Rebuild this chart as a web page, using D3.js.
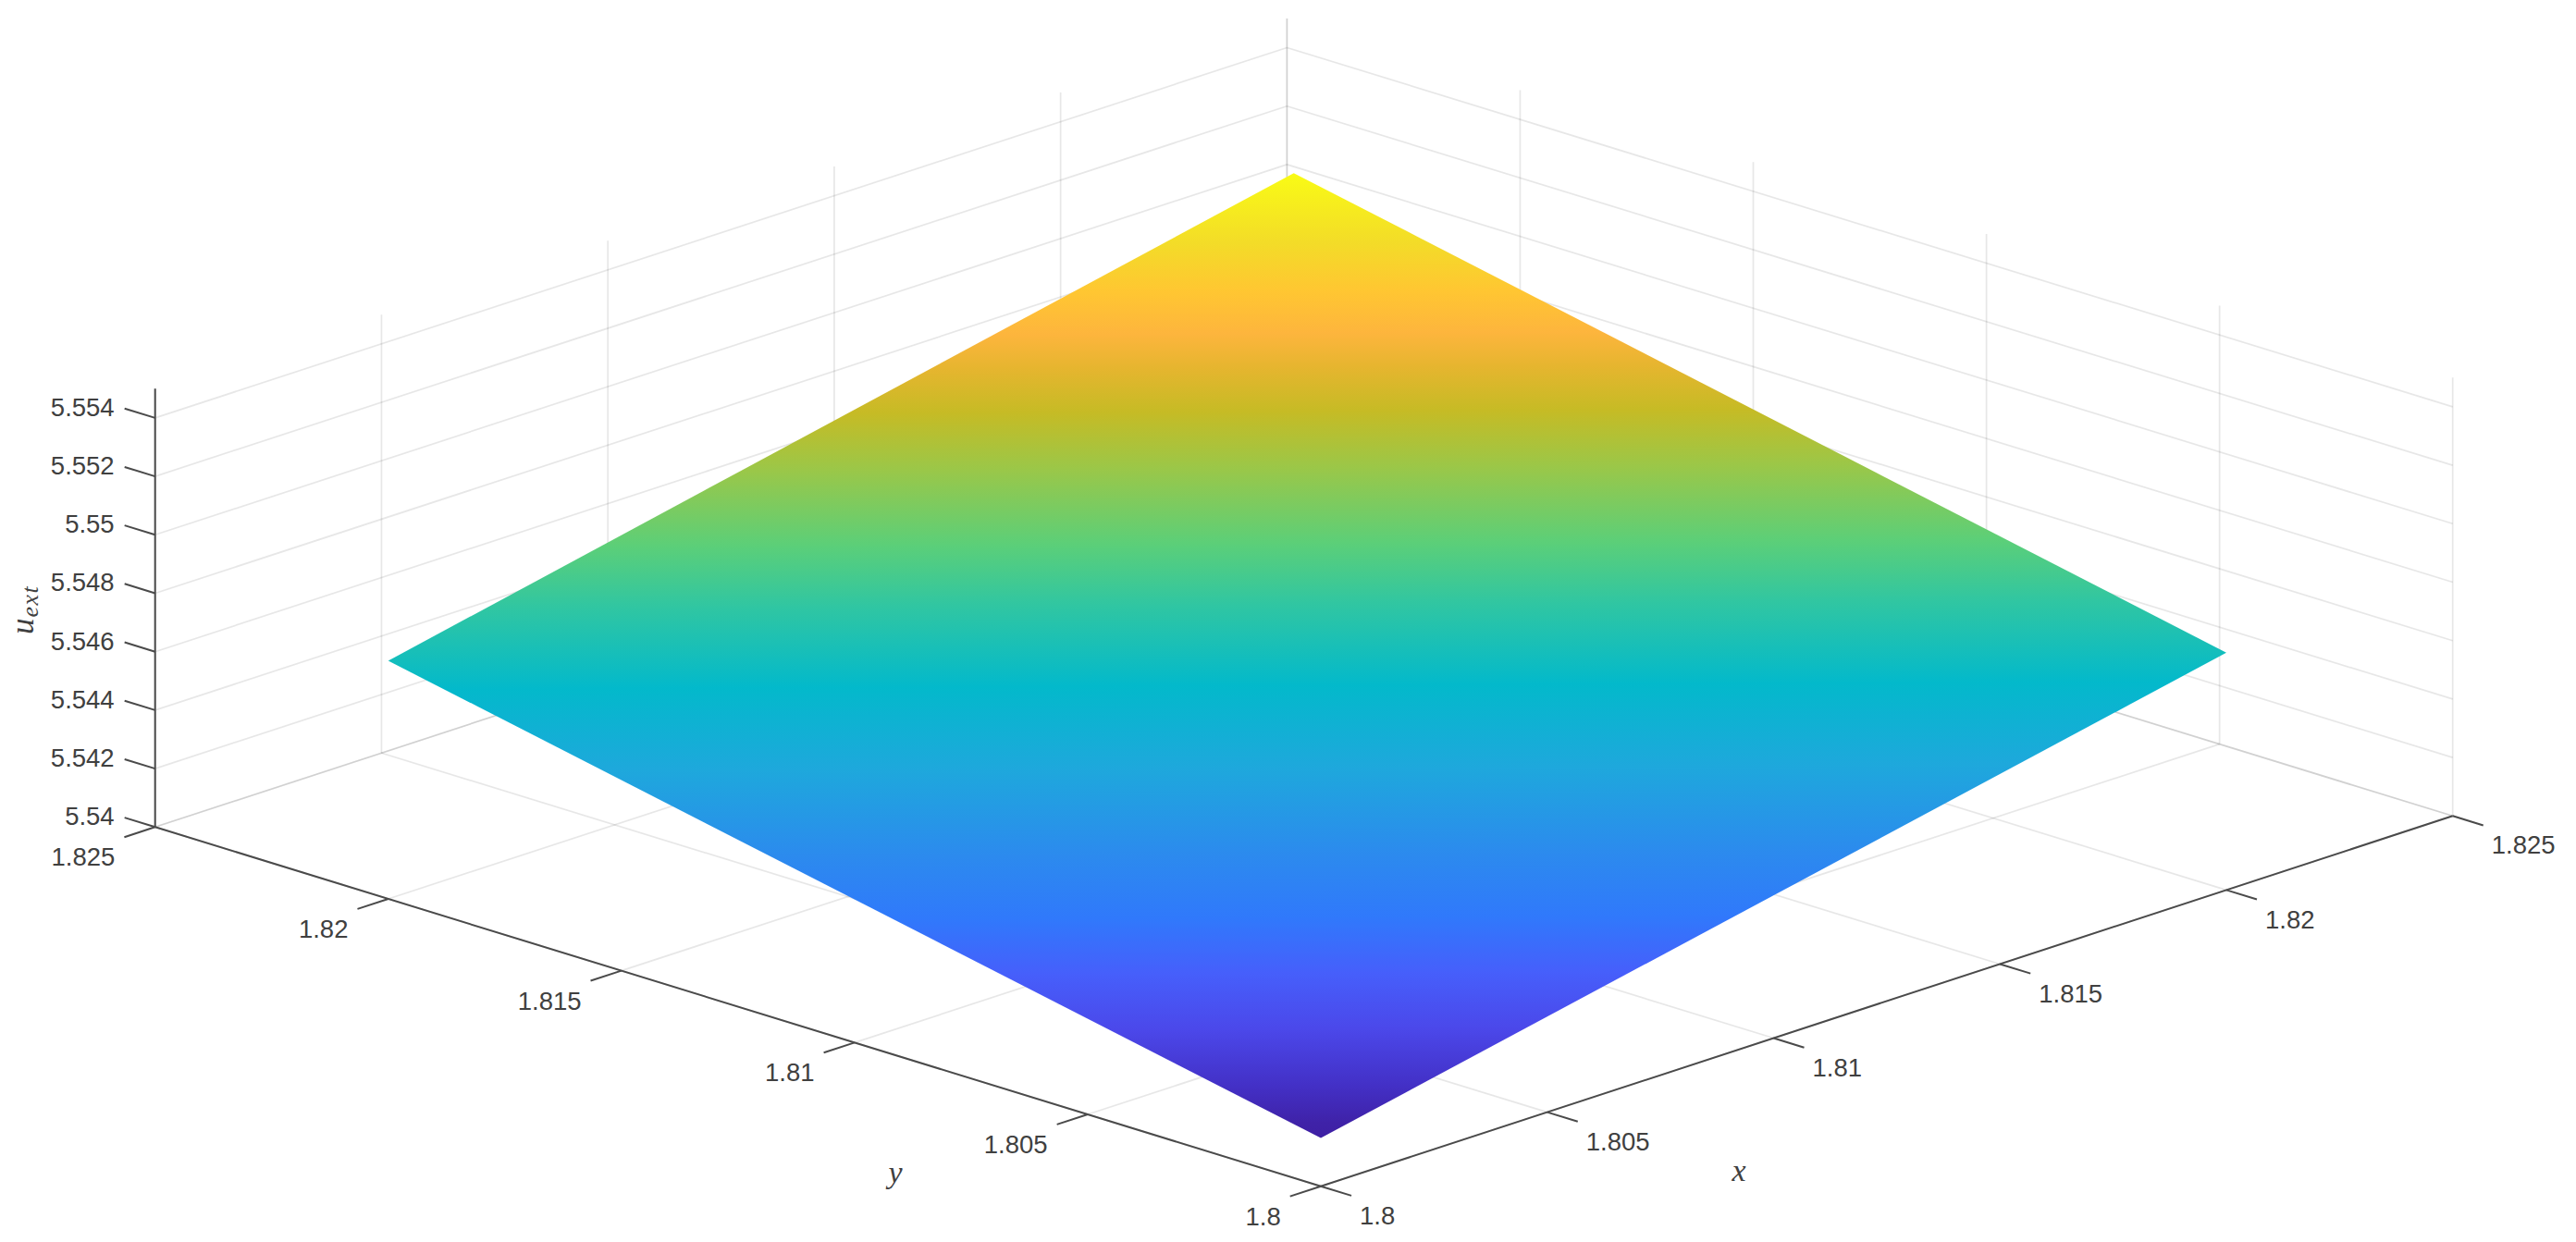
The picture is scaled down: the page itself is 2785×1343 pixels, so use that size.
<!DOCTYPE html>
<html>
<head>
<meta charset="utf-8">
<script src="https://cdn.jsdelivr.net/npm/d3@7"></script>
<style>
  body { margin: 0; background: #fff; }
  text { font-family: "Liberation Sans", Arial, sans-serif; font-size: 27.5px; fill: #404040; }
  .math { font-family: "Liberation Serif", serif; font-style: italic; }
</style>
</head>
<body>
<div id="chart"></div>
<script>
// tick values of the three axes
const xTicks = [1.8, 1.805, 1.81, 1.815, 1.82, 1.825];
const yTicks = [1.8, 1.805, 1.81, 1.815, 1.82, 1.825];
const zTicks = [5.54, 5.542, 5.544, 5.546, 5.548, 5.55, 5.552, 5.554];

// axis limits
const xLim = [1.8, 1.825];
const yLim = [1.8, 1.825];
const zLim = [5.54, 5.555];

// surface corners
const surfX = [1.8, 1.82, 1.82, 1.8];
const surfY = [1.8, 1.8, 1.82, 1.82];
const surfZ = [5.54165, 5.54812, 5.5547, 5.54815];

// colours up the surface (0 = lowest corner, 1 = highest corner)
const colorPos = [0, 0.016, 0.054, 0.113, 0.171, 0.229, 0.293, 0.384, 0.469, 0.553, 0.617, 0.695, 0.753, 0.799, 0.834, 0.877, 0.928, 1];
const colorHex = ["#3e1fa4", "#3f22a8", "#4330c6", "#4b48ea", "#465ffb", "#3079fb", "#2c8aee", "#1ea8dc", "#03b9cb", "#30c6a2", "#5ccf78", "#9bc748", "#c6bb25", "#e6b52f", "#fdb53d", "#ffc632", "#f3dc28", "#f9fb15"];

const width = 2785, height = 1343;

// the view is orthographic, so the box is just an origin and three edge vectors
const origin = [1428, 1282.7];
const xEdge = [1223.7, -400.4];
const yEdge = [-1260.3, -388.4];
const zEdge = [0, -474];

const xs = d3.scaleLinear().domain(xLim).range([0, 1]);
const ys = d3.scaleLinear().domain(yLim).range([0, 1]);
const zs = d3.scaleLinear().domain(zLim).range([0, 1]);

function project(x, y, z) {
  const u = xs(x), v = ys(y), w = zs(z);
  return [
    origin[0] + u * xEdge[0] + v * yEdge[0] + w * zEdge[0],
    origin[1] + u * xEdge[1] + v * yEdge[1] + w * zEdge[1]
  ];
}

const svg = d3.select("#chart")
  .append("svg")
  .attr("width", width)
  .attr("height", height);

function line3d(g, a, b) {
  const p = project(...a), q = project(...b);
  return g.append("line")
    .attr("x1", p[0]).attr("y1", p[1])
    .attr("x2", q[0]).attr("y2", q[1]);
}

// grid, semi transparent so the lines get darker where they double up
const grid = svg.append("g")
  .attr("stroke", "#262626")
  .attr("stroke-opacity", 0.11)
  .attr("stroke-width", 1.7)
  .attr("fill", "none");

xTicks.forEach(x => {
  line3d(grid, [x, yLim[0], zLim[0]], [x, yLim[1], zLim[0]]);
  line3d(grid, [x, yLim[1], zLim[0]], [x, yLim[1], zLim[1]]);
});
yTicks.forEach(y => {
  line3d(grid, [xLim[0], y, zLim[0]], [xLim[1], y, zLim[0]]);
  line3d(grid, [xLim[1], y, zLim[0]], [xLim[1], y, zLim[1]]);
});
zTicks.forEach(z => {
  line3d(grid, [xLim[0], yLim[1], z], [xLim[1], yLim[1], z]);
  line3d(grid, [xLim[1], yLim[1], z], [xLim[1], yLim[0], z]);
});

// surface with a gradient that follows the height of the plane
const corners = surfX.map((x, i) => project(x, surfY[i], surfZ[i]));
const across = [corners[1][0] - corners[3][0], corners[1][1] - corners[3][1]];
const len = Math.hypot(across[0], across[1]);
const normal = [-across[1] / len, across[0] / len];
const reach = (corners[2][0] - corners[0][0]) * normal[0] + (corners[2][1] - corners[0][1]) * normal[1];

const grad = svg.append("defs").append("linearGradient")
  .attr("id", "surfaceFill")
  .attr("gradientUnits", "userSpaceOnUse")
  .attr("x1", corners[0][0])
  .attr("y1", corners[0][1])
  .attr("x2", corners[0][0] + normal[0] * reach)
  .attr("y2", corners[0][1] + normal[1] * reach);

grad.selectAll("stop")
  .data(colorPos)
  .join("stop")
  .attr("offset", d => d)
  .attr("stop-color", (d, i) => colorHex[i]);

svg.append("path")
  .attr("d", d3.line()(corners) + "Z")
  .attr("fill", "url(#surfaceFill)");

// axis lines and ticks
const axes = svg.append("g")
  .attr("stroke", "#4a4a4a")
  .attr("stroke-width", 2)
  .attr("fill", "none");

line3d(axes, [xLim[0], yLim[0], zLim[0]], [xLim[1], yLim[0], zLim[0]]);
line3d(axes, [xLim[0], yLim[0], zLim[0]], [xLim[0], yLim[1], zLim[0]]);
line3d(axes, [xLim[0], yLim[1], zLim[0]], [xLim[0], yLim[1], zLim[1]]);

// tick length, in axis units
const xTickLen = 0.000655;
const yTickLen = 0.00068;

const labels = svg.append("g");

xTicks.forEach(x => {
  line3d(axes, [x, yLim[0], zLim[0]], [x, yLim[0] - xTickLen, zLim[0]]);
  const p = project(x, yLim[0] - xTickLen, zLim[0]);
  labels.append("text")
    .attr("x", p[0] + 9)
    .attr("y", p[1] + 31)
    .text(x);
});

yTicks.forEach(y => {
  line3d(axes, [xLim[0], y, zLim[0]], [xLim[0] - yTickLen, y, zLim[0]]);
  const p = project(xLim[0] - yTickLen, y, zLim[0]);
  labels.append("text")
    .attr("x", p[0] - 10)
    .attr("y", p[1] + 31)
    .attr("text-anchor", "end")
    .text(y);
});

zTicks.forEach(z => {
  line3d(axes, [xLim[0], yLim[1], z], [xLim[0], yLim[1] + xTickLen, z]);
  const p = project(xLim[0], yLim[1] + xTickLen, z);
  labels.append("text")
    .attr("x", p[0] - 11)
    .attr("y", p[1] + 8)
    .attr("text-anchor", "end")
    .text(z);
});

// axis titles
svg.append("text")
  .attr("class", "math")
  .attr("x", 1880)
  .attr("y", 1277)
  .attr("text-anchor", "middle")
  .style("font-size", "34px")
  .text("x");

svg.append("text")
  .attr("class", "math")
  .attr("x", 968)
  .attr("y", 1279)
  .attr("text-anchor", "middle")
  .style("font-size", "34px")
  .text("y");

const zTitle = svg.append("text")
  .attr("class", "math")
  .attr("transform", "translate(36,686) rotate(-90)")
  .style("font-size", "35px");
zTitle.append("tspan").text("u");
zTitle.append("tspan")
  .attr("dy", 5)
  .attr("dx", 1)
  .style("font-size", "26px")
  .style("letter-spacing", "1.5px")
  .text("ext");
</script>
</body>
</html>
